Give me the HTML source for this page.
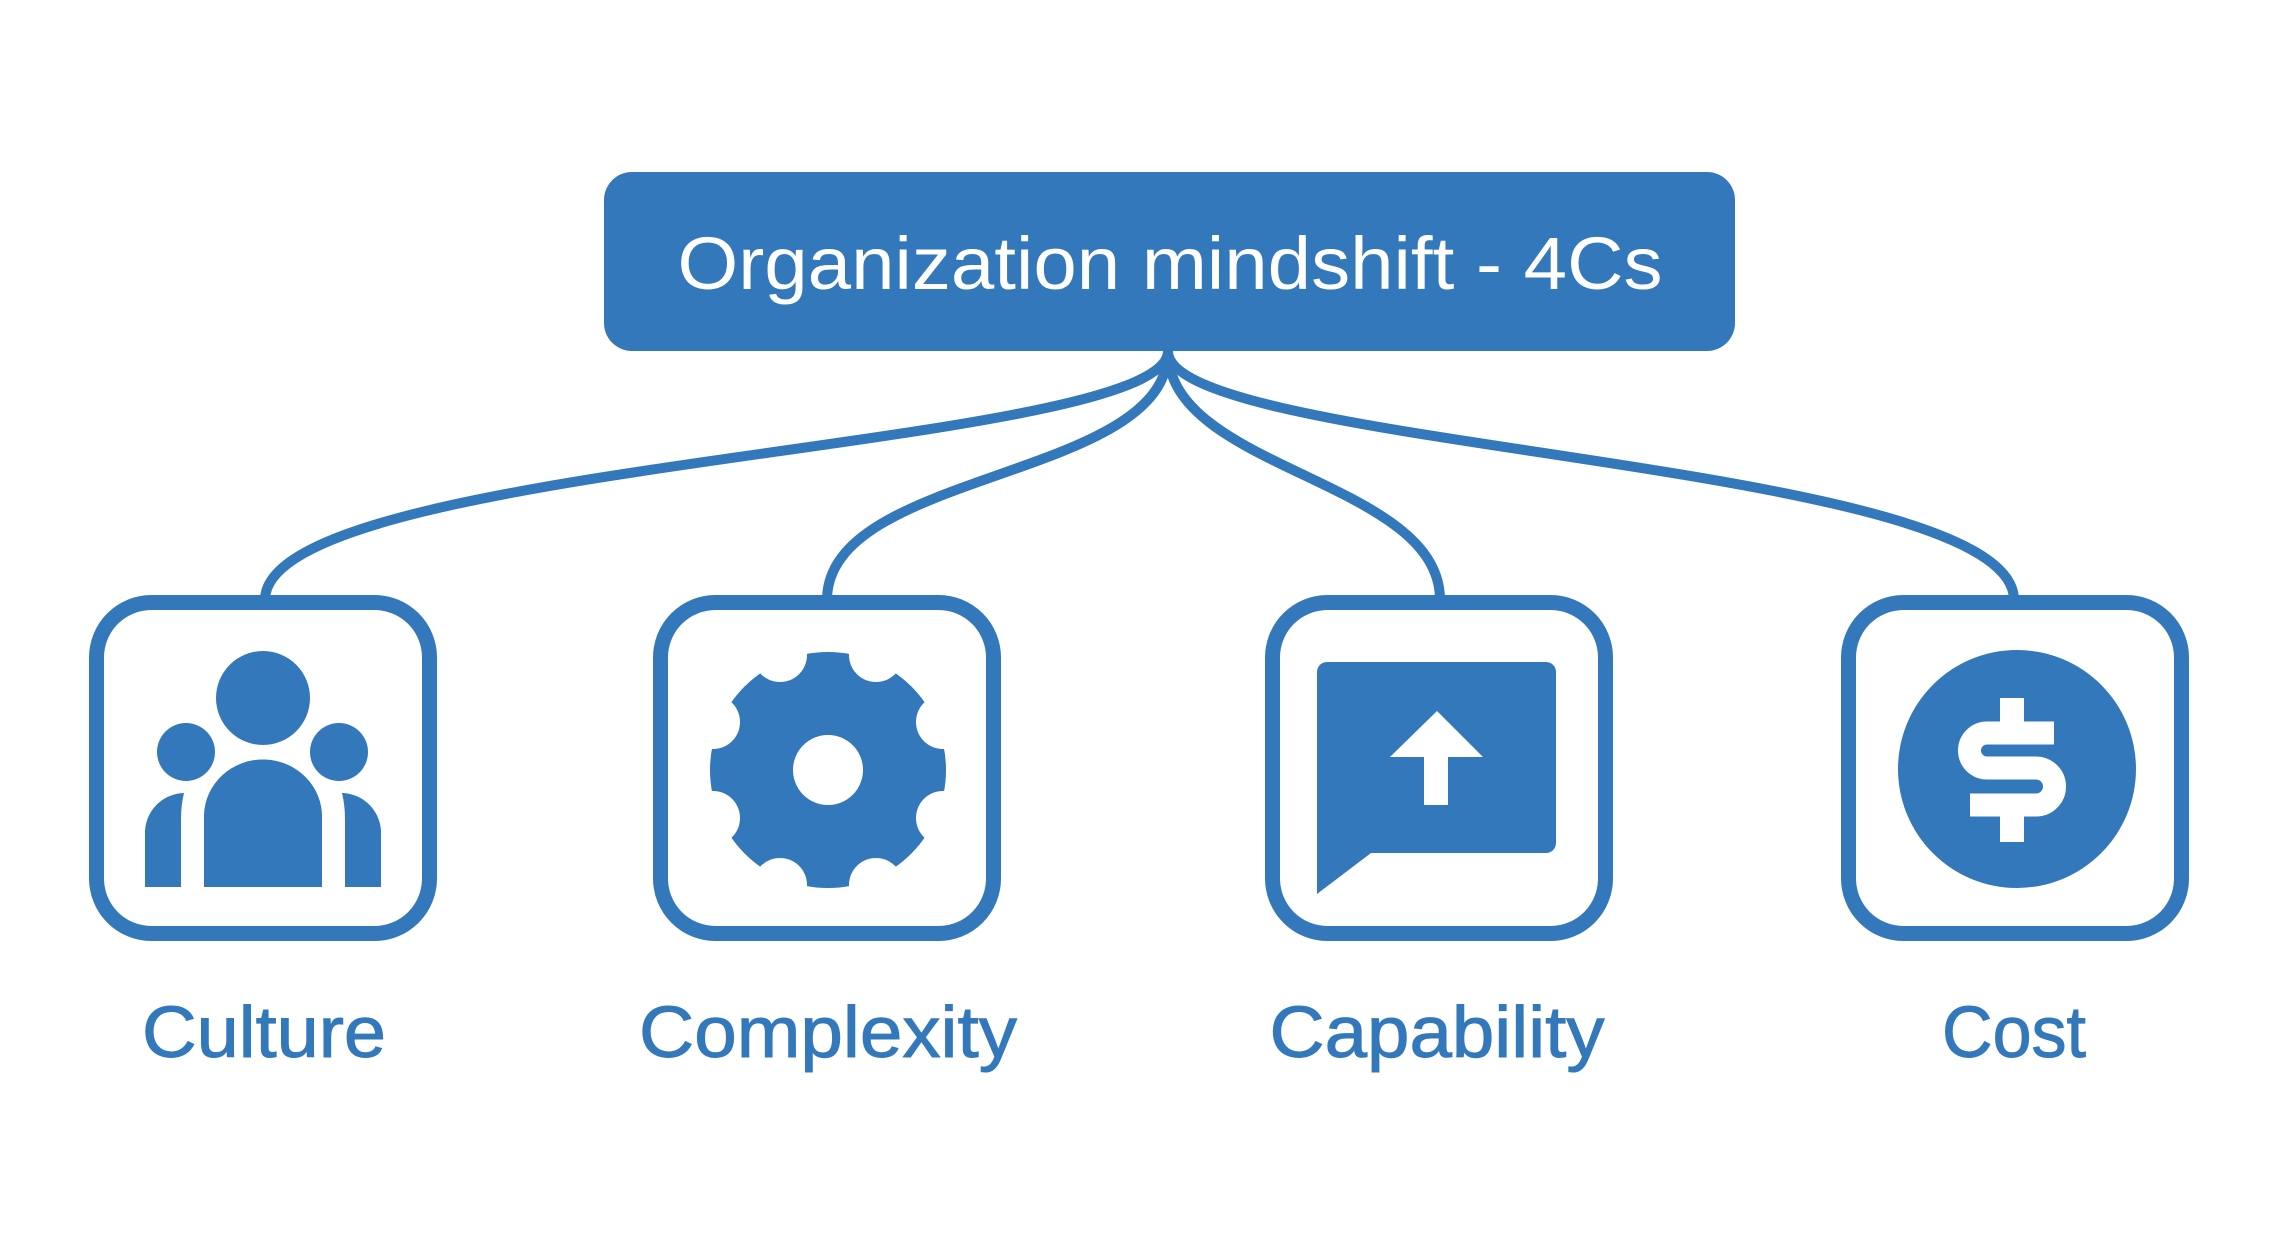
<!DOCTYPE html>
<html><head><meta charset="utf-8"><style>
html,body{margin:0;padding:0;background:#fff;}
svg{display:block;}
</style></head><body>
<svg width="2294" height="1242" viewBox="0 0 2294 1242" xmlns="http://www.w3.org/2000/svg">
<rect x="0" y="0" width="2294" height="1242" fill="#fff"/>
<!-- connectors -->
<g fill="none" stroke="#3378BA" stroke-width="10">
<path d="M1168 351 C1168 450, 265 460, 265 600"/>
<path d="M1168 351 C1168 480, 827 470, 827 600"/>
<path d="M1168 351 C1168 470, 1440 480, 1440 600"/>
<path d="M1168 351 C1168 450, 2014 460, 2014 600"/>
</g>
<!-- top box -->
<rect x="604" y="172" width="1131" height="179" rx="28" fill="#3378BA"/>
<text x="1170" y="289" text-anchor="middle" font-family="Liberation Sans, sans-serif" font-size="74" fill="#fff" textLength="985" lengthAdjust="spacingAndGlyphs">Organization mindshift - 4Cs</text>
<!-- boxes -->
<g fill="#fff" stroke="#3378BA" stroke-width="15">
<rect x="96.5" y="602.5" width="333" height="331" rx="55"/>
<rect x="660.5" y="602.5" width="333" height="331" rx="55"/>
<rect x="1272.5" y="602.5" width="333" height="331" rx="55"/>
<rect x="1848.5" y="602.5" width="333" height="331" rx="55"/>
</g>
<!-- culture icon -->
<g fill="#3378BA">
<circle cx="263" cy="698" r="47"/>
<circle cx="186" cy="752" r="29"/>
<circle cx="339" cy="752" r="29"/>
<path d="M204 887 V815 A59 57 0 0 1 322 818 V887 Z"/>
<path d="M145 887 V835 A40 40 0 0 1 184 793 Q181 805 181 820 V887 Z"/>
<path d="M381 887 V835 A40 40 0 0 0 342 793 Q345 805 345 820 V887 Z"/>
</g>
<!-- gear -->
<g>
<circle cx="828" cy="770" r="118" fill="#3378BA"/>
<g fill="#fff">
<circle cx="780" cy="655" r="27"/><circle cx="876" cy="655" r="27"/>
<circle cx="943" cy="722" r="27"/><circle cx="943" cy="818" r="27"/>
<circle cx="876" cy="885" r="27"/><circle cx="780" cy="885" r="27"/>
<circle cx="713" cy="818" r="27"/><circle cx="713" cy="722" r="27"/>
<circle cx="828" cy="770" r="35"/>
</g>
<rect x="700" y="640" width="10" height="260" fill="#fff"/>
<rect x="946" y="640" width="10" height="260" fill="#fff"/>
<rect x="700" y="640" width="260" height="12" fill="#fff"/>
<rect x="700" y="888" width="260" height="12" fill="#fff"/>
</g>
<!-- speech bubble -->
<path d="M1327 662 H1546 A10 10 0 0 1 1556 672 V843 A10 10 0 0 1 1546 853 H1371 L1317 894 V672 A10 10 0 0 1 1327 662 Z" fill="#3378BA"/>
<path d="M1437 711 L1483 757 H1448 V805 H1424 V757 H1390 Z" fill="#fff"/>
<!-- dollar -->
<circle cx="2017" cy="769" r="119" fill="#3378BA"/>
<g transform="translate(-4,0)">
<path d="M2058 733 H1991 A17.5 17.5 0 0 0 1991 768 H2040 A18.5 18.5 0 0 1 2040 805 H1974" fill="none" stroke="#fff" stroke-width="23"/>
<rect x="2004" y="698" width="24" height="25" fill="#fff"/>
<rect x="2004" y="815" width="24" height="27" fill="#fff"/>
</g>
<!-- labels -->
<g font-family="Liberation Sans, sans-serif" font-size="72" fill="#3378BA" stroke="#3378BA" stroke-width="1" text-anchor="middle">
<text x="264" y="1057" textLength="244" lengthAdjust="spacingAndGlyphs">Culture</text>
<text x="828" y="1057" textLength="378" lengthAdjust="spacingAndGlyphs">Complexity</text>
<text x="1437" y="1057" textLength="335" lengthAdjust="spacingAndGlyphs">Capability</text>
<text x="2014" y="1057" textLength="144" lengthAdjust="spacingAndGlyphs">Cost</text>
</g>
</svg>
</body></html>
